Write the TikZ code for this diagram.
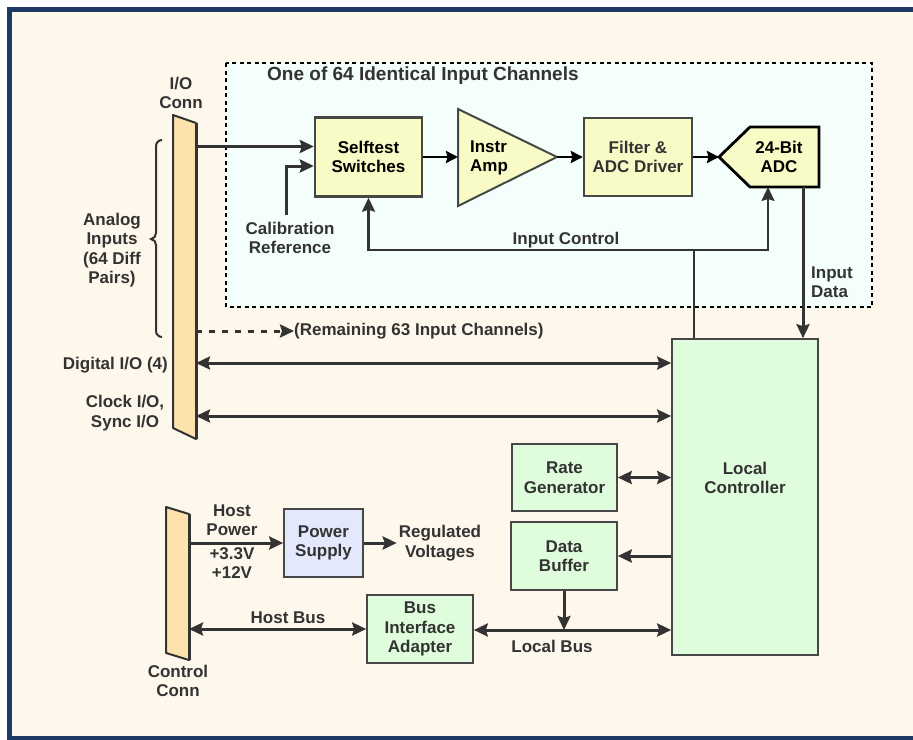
\documentclass[tikz,border=0pt]{standalone}
\usepackage{fontspec}
\setmainfont{Liberation Sans}
\usetikzlibrary{arrows.meta, positioning}
\usepackage{xcolor}

\definecolor{frame}{HTML}{1C3A63}
\definecolor{cream}{HTML}{FEF7EC}
\definecolor{chan}{HTML}{F4FEFB}
\definecolor{ylw}{HTML}{F9FBC6}
\definecolor{grn}{HTML}{DFFDDC}
\definecolor{lav}{HTML}{E4E8FC}
\definecolor{conn}{HTML}{FDE2AE}
\definecolor{ink}{HTML}{333333}

\tikzset{
  txt/.style={font=\fontsize{17}{19.5}\selectfont\bfseries, text=ink, align=center, inner sep=0pt},
  blk/.style={txt, draw=ink!90!white, line width=1.6pt},
  chanblk/.style={blk, fill=ylw, line width=2.4pt},
  wire/.style={draw=ink, line width=3pt, -{Stealth[length=14pt,width=13pt,inset=2pt]}},
  dwire/.style={wire, {Stealth[length=14pt,width=13pt,inset=2pt]}-{Stealth[length=14pt,width=13pt,inset=2pt]}},
  sig/.style={draw=black, line width=2.6pt, -{Stealth[length=12pt,width=12pt,inset=1.5pt]}},
  plug/.style={draw=ink, line width=2pt, fill=conn, line join=round},
}

\begin{document}
\begin{tikzpicture}[x=1pt, y=-1pt]
  \useasboundingbox (0,0) rectangle (913,739);
  \fill[white] (0,0) rectangle (913,739);
  \begin{scope}
    \clip (0,0) rectangle (913,739);
    \draw[frame, line width=5pt, fill=cream] (9.5,9.5) rectangle (940,738.5);
  \end{scope}

  % one input channel
  \draw[black, line width=2.6pt, dash pattern=on 4pt off 3.5pt, fill=chan] (226,63) rectangle (872,307);
  \node[txt, font=\fontsize{19}{21}\selectfont\bfseries, anchor=west] (ttl) at (267,76) {One of 64 Identical Input Channels};

  % connectors
  \coordinate (io1) at (173,115);
  \coordinate (io2) at (196,123);
  \coordinate (io3) at (196,439);
  \coordinate (io4) at (173,428);
  \draw[plug] (io1) -- (io2) -- (io3) -- (io4) -- cycle;
  \draw[ink, line width=3pt] (io2) -- (io3);
  \node[txt] (ioc) at (181,93) {I/O\\Conn};

  \coordinate (cc1) at (166,507);
  \coordinate (cc2) at (189,514);
  \coordinate (cc3) at (189,660);
  \coordinate (cc4) at (166,653);
  \draw[plug] (cc1) -- (cc2) -- (cc3) -- (cc4) -- cycle;
  \draw[ink, line width=3pt] (cc2) -- (cc3);
  \node[txt] (ccl) at (178,681) {Control\\Conn};

  % analog inputs brace
  \draw[ink, line width=2pt] (162,140) to[out=180,in=90] (156,146) -- (156,233)
    to[out=-90,in=0] (151,239) to[out=0,in=90] (156,245) -- (156,331) to[out=-90,in=180] (162,337);
  \node[txt] (ain) at (112,250) {Analog\\Inputs\\(64 Diff\\Pairs)};

  % channel blocks
  \node[chanblk, text=black, minimum width=107, minimum height=79] (sw) at (368.5,157) {Selftest\\Switches};
  \coordinate (amp1) at (458,109);
  \coordinate (amp2) at (458,206);
  \coordinate (amp) at (557,157);
  \coordinate (ampw) at (458,157);
  \draw[ink!90!white, line width=2pt, fill=ylw, line join=miter] (amp1) -- (amp) -- (amp2) -- cycle;
  \node[txt, text=black, align=left] (ampl) at (489,158) {Instr\\Amp};
  \node[blk, fill=ylw, line width=2.4pt, minimum width=108, minimum height=78] (flt) at (638,157) {Filter \&\\ADC Driver};
  \coordinate (adc) at (719,157);
  \coordinate (adcb) at (768,187);
  \coordinate (adcd) at (803,187);
  \draw[black, line width=2.8pt, fill=ylw] (adc) -- (750,127) -- (819,127) -- (819,187) -- (750,187) -- cycle;
  \node[txt, text=black] (adcl) at (779,157) {24-Bit\\ADC};

  % controller side
  \node[blk, fill=grn, minimum width=146, minimum height=316] (lc) at (745,497) {};
  \node[txt] (lcl) at (745,478) {Local\\Controller};
  \node[blk, fill=grn, minimum width=105, minimum height=67] (rg) at (564.5,477.5) {Rate\\Generator};
  \node[blk, fill=grn, minimum width=106, minimum height=68] (db) at (564,556) {Data\\Buffer};
  \node[blk, fill=lav, minimum width=79, minimum height=68] (ps) at (323.5,543) {Power\\Supply};
  \node[blk, fill=grn, minimum width=106, minimum height=68] (bia) at (420,629) {Bus\\Interface\\Adapter};

  % signal chain
  \coordinate (ain0) at (196,146.5);
  \draw[wire] (ain0) -- (ain0 -| sw.west);
  \node[txt] (cal) at (290,238) {Calibration\\Reference};
  \coordinate (cal0) at (286,215);
  \draw[wire] (cal0) |- ([yshift=-9pt]sw.west);
  \draw[sig] (sw.east) -- (ampw);
  \draw[sig] (amp) -- (flt.west);
  \draw[sig] (flt.east) -- (adc);

  % input control and data
  \coordinate (ic) at (694,250);
  \draw[ink, line width=2.2pt] (ic |- lc.north) -- (ic);
  \draw[wire, line width=2.2pt] (ic) -| (sw.south);
  \draw[wire, line width=2.2pt] (ic) -| (adcb);
  \node[txt] (icl) at (566,240) {Input Control};
  \draw[wire] (adcd) -- (adcd |- lc.north);
  \node[txt, align=left, anchor=west] (idl) at (811,282) {Input\\Data};

  % remaining channels
  \node[txt, anchor=west] (rem) at (294,331) {(Remaining 63 Input Channels)};
  \coordinate (rem0) at (196,331);
  \draw[wire, dash pattern=on 6pt off 7pt] (rem0) -- (rem.west);

  % digital and clock lines
  \coordinate (dio) at (196,363);
  \draw[dwire] (dio) -- (dio -| lc.west);
  \node[txt, anchor=east] (diol) at (168,365) {Digital I/O (4)};
  \coordinate (clk) at (196,416);
  \draw[dwire] (clk) -- (clk -| lc.west);
  \node[txt] (clkl) at (125,413) {Clock I/O,\\Sync I/O};

  % controller links
  \draw[dwire] (rg.east) -- (rg.east -| lc.west);
  \draw[wire] (db.east -| lc.west) -- (db.east);
  \coordinate (lb) at (564,630);
  \draw[wire] (db.south) -- (lb);
  \draw[dwire] (bia.east |- lb) -- (lb -| lc.west);
  \node[txt] (lbl) at (552,646) {Local Bus};

  % host side
  \coordinate (hp) at (189,543);
  \draw[wire] (hp) -- (ps.west);
  \node[txt] (hpl) at (232,520) {Host\\Power};
  \node[txt] (vl) at (232,563) {+3.3V\\+12V};
  \node[txt] (rv) at (440,543) {Regulated\\Voltages};
  \draw[wire] (ps.east) -- ([xshift=-2pt]rv.west);
  \coordinate (hb) at (189,629);
  \draw[dwire] (hb) -- (bia.west);
  \node[txt] (hbl) at (288,618) {Host Bus};
\end{tikzpicture}
\end{document}
